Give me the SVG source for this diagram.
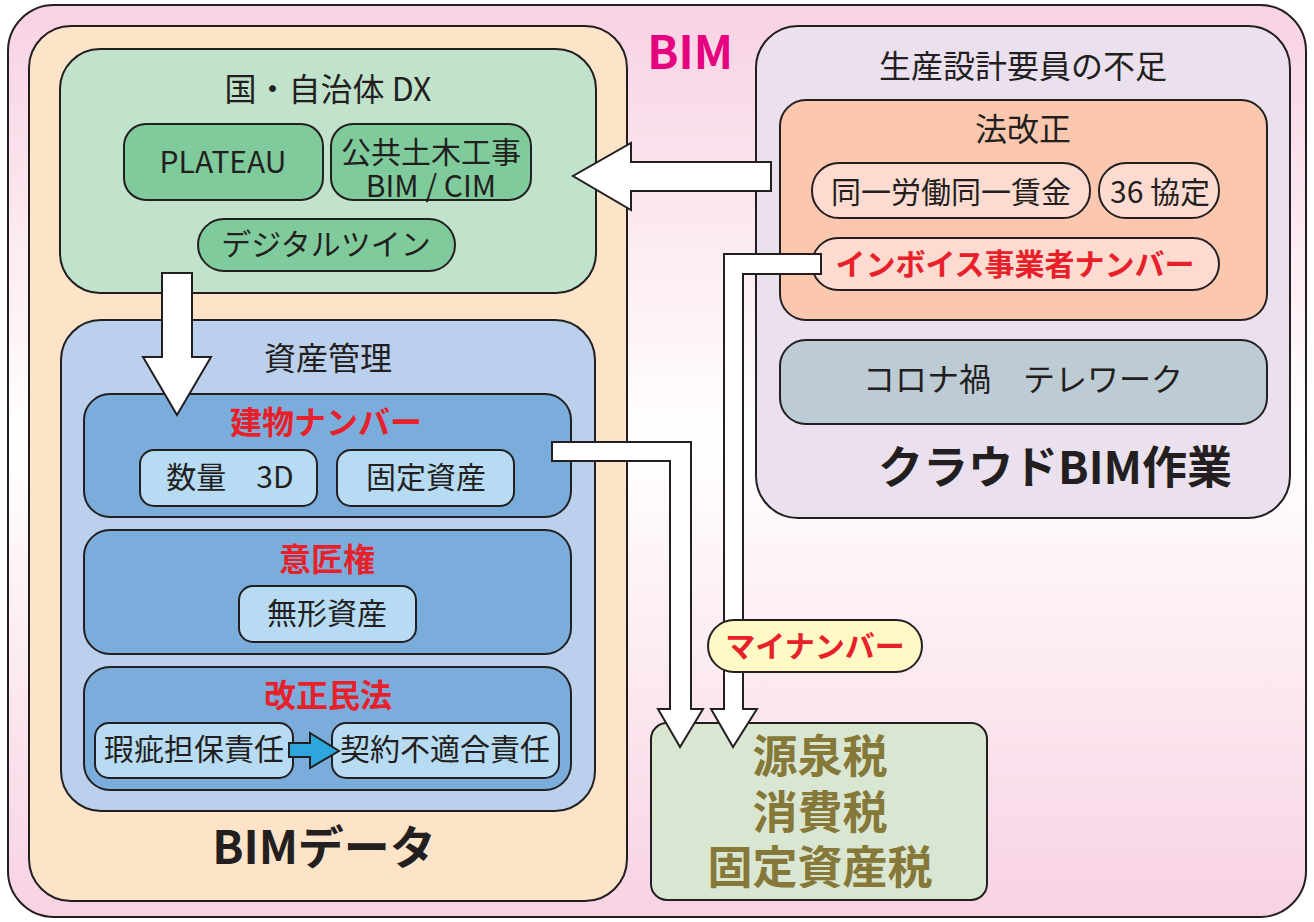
<svg xmlns="http://www.w3.org/2000/svg" width="1314" height="922" viewBox="0 0 1314 922">
<defs>
<linearGradient id="bg" x1="0" y1="0" x2="0" y2="1">
<stop offset="0" stop-color="#f8d2e3"/>
<stop offset="0.48" stop-color="#ffffff"/>
<stop offset="1" stop-color="#f8d2e3"/>
</linearGradient>
<style>
rect, polygon { stroke: #231f20; stroke-width: 2; }
text { font-family: "Noto Sans CJK JP", "Noto Sans", sans-serif; fill: #231f20; text-anchor: middle; }
.t { font-size: 30px; }
.h { font-size: 32px; }
.r { font-size: 32px; font-weight: bold; fill: #e8202a; }
.big { font-size: 46px; font-weight: bold; }
.tax { font-size: 45px; font-weight: bold; fill: #857839; }
.arrow { fill: #ffffff; }
</style>
</defs>

<g id="frame">
<rect x="8" y="5" width="1298" height="912" rx="46" fill="url(#bg)"/>
</g>

<g id="bim-data">
<rect x="29" y="26" width="598" height="875" rx="42" fill="#fde3c7"/>
<text class="big" x="324" y="864">BIMデータ</text>
</g>

<g id="bim-label">
<text x="690" y="69" style="font-size:46px;font-weight:bold;fill:#e4007f">BIM</text>
</g>

<g id="dx">
<rect x="60" y="49" width="536" height="244" rx="40" fill="#c1e2cb"/>
<text class="h" x="328" y="101">国・自治体 DX</text>
</g>
<g id="plateau">
<rect x="124" y="124" width="199" height="76" rx="22" fill="#80cb9b"/>
<text class="t" x="223" y="173">PLATEAU</text>
</g>
<g id="public-works">
<rect x="331" y="124" width="200" height="76" rx="22" fill="#80cb9b"/>
<text class="t" x="431" y="163">公共土木工事<tspan x="431" dy="34">BIM / CIM</tspan></text>
</g>
<g id="digital-twin">
<rect x="198" y="219" width="257" height="52" rx="26" fill="#80cb9b"/>
<text class="t" x="326" y="255">デジタルツイン</text>
</g>

<g id="asset-mgmt">
<rect x="61" y="320" width="534" height="491" rx="40" fill="#bad0ec"/>
<text class="h" x="328" y="370">資産管理</text>
</g>
<g id="building-number">
<rect x="84" y="394" width="487" height="123" rx="26" fill="#7aaddc"/>
<text class="r" x="326" y="434">建物ナンバー</text>
</g>
<g id="quantity-3d">
<rect x="140" y="450" width="177" height="56" rx="14" fill="#b7dbf3"/>
<text class="t" x="230" y="488">数量　3D</text>
</g>
<g id="fixed-assets">
<rect x="337" y="450" width="177" height="56" rx="14" fill="#b7dbf3"/>
<text class="t" x="426" y="488">固定資産</text>
</g>
<g id="design-right">
<rect x="84" y="530" width="487" height="124" rx="26" fill="#7aaddc"/>
<text class="r" x="327" y="571">意匠権</text>
</g>
<g id="intangible">
<rect x="239" y="586" width="177" height="56" rx="14" fill="#b7dbf3"/>
<text class="t" x="327" y="624">無形資産</text>
</g>
<g id="civil-code">
<rect x="84" y="667" width="487" height="123" rx="26" fill="#7aaddc"/>
<text class="r" x="328" y="707">改正民法</text>
</g>
<g id="defect-liability">
<rect x="95" y="723" width="198" height="55" rx="14" fill="#b7dbf3"/>
<text class="t" x="194" y="760">瑕疵担保責任</text>
</g>
<g id="nonconformity">
<rect x="332" y="723" width="227" height="55" rx="14" fill="#b7dbf3"/>
<text class="t" x="445" y="760">契約不適合責任</text>
</g>

<g id="staff-shortage">
<rect x="756" y="26" width="534" height="492" rx="42" fill="#ebe0ee"/>
<text class="h" x="1023" y="78">生産設計要員の不足</text>
<text class="big" x="1055" y="484" style="font-size:45px">クラウドBIM作業</text>
</g>
<g id="law-reform">
<rect x="780" y="100" width="487" height="220" rx="26" fill="#fbc7ae"/>
<text class="h" x="1023" y="141">法改正</text>
</g>
<g id="equal-pay">
<rect x="812" y="163" width="278" height="55" rx="27" fill="#fddbd0"/>
<text class="t" x="951" y="203">同一労働同一賃金</text>
</g>
<g id="agreement-36">
<rect x="1099" y="163" width="120" height="55" rx="27" fill="#fddbd0"/>
<text class="t" x="1160" y="203">36 協定</text>
</g>
<g id="invoice">
<rect x="812" y="238" width="407" height="52" rx="26" fill="#fddbd0"/>
<text class="t" x="1015" y="275" style="font-weight:bold;fill:#e8202a">インボイス事業者ナンバー</text>
</g>
<g id="telework">
<rect x="780" y="340" width="487" height="84" rx="26" fill="#bccbd4"/>
<text class="t" x="1023" y="391" style="font-size:32px">コロナ禍　テレワーク</text>
</g>

<g id="taxes">
<rect x="651" y="723" width="336" height="177" rx="16" fill="#d9e6d1"/>
<text class="tax" x="820" y="773">源泉税<tspan x="820" dy="56">消費税</tspan><tspan x="820" dy="55">固定資産税</tspan></text>
</g>

<g id="connectors">
<polygon class="arrow" points="162,273 192,273 192,357 211,357 177,415 143,357 162,357"/>
<polygon class="arrow" points="771,162 631,162 631,143 573,176 631,210 631,191 771,191"/>
<polygon class="arrow" points="552,442 691,442 691,709 703,709 680,747 658,709 670,709 670,461 552,461"/>
<polygon class="arrow" points="821,254 821,274 743,274 743,709 757,709 733,747 711,709 724,709 724,254"/>
<polygon points="289,743 310,743 310,733 339,751 310,768 310,757 289,757" fill="#2ca6dc"/>
<g id="my-number">
<rect x="708" y="620" width="214" height="52" rx="26" fill="#fff9c5"/>
<text class="t" x="815" y="657" style="font-weight:bold;fill:#e8202a">マイナンバー</text>
</g>
</g>
</svg>
